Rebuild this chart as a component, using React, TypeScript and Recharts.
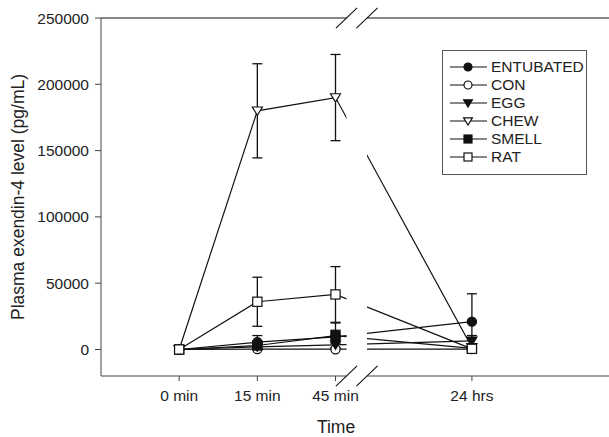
import { LineChart, Line, XAxis, YAxis, ErrorBar, ReferenceLine, ReferenceArea } from 'recharts';

const timeLabels = ['0 min', '15 min', '45 min', '24 hrs'];
// 24 hrs sits to the right of the axis break
const timePositions = [0, 1, 2, 3.745];

const entubated = [0, 5500, 9500, 21000];
const entubatedErr = [0, 5000, 5000, 21000];
const con = [0, 300, 200, 300];
const conErr = [0, 300, 300, 300];
const egg = [0, 2000, 3500, 6500];
const eggErr = [0, 1500, 2000, 4000];
const chew = [0, 180000, 190000, 1500];
const chewErr = [0, 35500, 32500, 1500];
const smell = [0, 3000, 10500, 800];
const smellErr = [0, 2000, 9500, 800];
const rat = [0, 36000, 41500, 500];
const ratErr = [0, 18500, 21000, 500];

const yTicks = [0, 50000, 100000, 150000, 200000, 250000];

const series = [
  { key: 'entubated', name: 'ENTUBATED', values: entubated, errors: entubatedErr, shape: 'circle', filled: true },
  { key: 'con', name: 'CON', values: con, errors: conErr, shape: 'circle', filled: false },
  { key: 'egg', name: 'EGG', values: egg, errors: eggErr, shape: 'triangle', filled: true },
  { key: 'chew', name: 'CHEW', values: chew, errors: chewErr, shape: 'triangle', filled: false },
  { key: 'smell', name: 'SMELL', values: smell, errors: smellErr, shape: 'square', filled: true },
  { key: 'rat', name: 'RAT', values: rat, errors: ratErr, shape: 'square', filled: false },
];

const data = timePositions.map((x, i) => {
  const row: Record<string, number> = { x };
  series.forEach((s) => {
    row[s.key] = s.values[i];
    row[s.key + 'Err'] = s.errors[i];
  });
  return row;
});

const FONT = '"Liberation Sans", Arial, sans-serif';
const INK = '#111';

// axis break, in data units
const breakLeft = 2.141;
const breakRight = 2.403;
const slashDx = 0.135;
const slashDy = 7600;
const yTop = 250000;
const yBottom = -20000;

function Marker({ cx, cy, shape, filled, r = 4.6 }: any) {
  const common = { fill: filled ? INK : '#fff', stroke: INK, strokeWidth: 1.2 };
  if (shape === 'circle') return <circle cx={cx} cy={cy} r={r} {...common} />;
  if (shape === 'square') return <rect x={cx - r} y={cy - r} width={r * 2} height={r * 2} {...common} />;
  return (
    <polygon
      points={`${cx - r - 0.4},${cy - r + 0.8} ${cx + r + 0.4},${cy - r + 0.8} ${cx},${cy + r}`}
      {...common}
    />
  );
}

function LegendBox() {
  return (
    <div
      style={{
        position: 'absolute',
        left: 442,
        top: 50,
        boxSizing: 'border-box',
        width: 145,
        height: 125,
        border: '1px solid #555',
        background: '#fff',
        paddingTop: 7,
        fontFamily: FONT,
        fontSize: 15.5,
        color: '#222',
      }}
    >
      {series.map((s) => (
        <div key={s.key} style={{ display: 'flex', alignItems: 'center', height: 18 }}>
          <svg width={47} height={18} style={{ display: 'block' }}>
            <line x1={7} y1={9} x2={44} y2={9} stroke={INK} strokeWidth={1.2} />
            <Marker cx={25} cy={9} shape={s.shape} filled={s.filled} r={4} />
          </svg>
          <span style={{ marginLeft: 1, lineHeight: '18px' }}>{s.name}</span>
        </div>
      ))}
    </div>
  );
}

export default function App() {
  return (
    <div style={{ position: 'relative', width: 609, height: 437, overflow: 'hidden' }}>
      <style>{'html,body{margin:0;overflow:hidden}'}</style>
      <LineChart
        width={609}
        height={437}
        data={data}
        margin={{ top: 18, right: -4, bottom: 0, left: 0 }}
        style={{ fontFamily: FONT }}
      >
        <XAxis
          dataKey="x"
          type="number"
          domain={[-1, 5.55]}
          ticks={timePositions}
          interval={0}
          tickFormatter={(v: number) => timeLabels[timePositions.indexOf(v)]}
          height={61}
          tickSize={5}
          tickMargin={9}
          axisLine={{ stroke: '#444' }}
          tickLine={{ stroke: '#444' }}
          tick={{ fill: '#222', fontSize: 15.5 }}
          label={{ value: 'Time', position: 'insideBottom', offset: 4, dx: -21, style: { fontSize: 17.5, fill: '#222' } }}
        />
        <YAxis
          type="number"
          domain={[yBottom, yTop]}
          ticks={yTicks}
          interval={0}
          width={101}
          tickSize={6}
          tickMargin={6}
          axisLine={{ stroke: '#444' }}
          tickLine={{ stroke: '#444' }}
          tick={{ fill: '#222', fontSize: 15.5 }}
          label={{
            value: 'Plasma exendin-4 level (pg/mL)',
            angle: -90,
            position: 'center',
            dx: -33,
            style: { fontSize: 17.5, fill: '#222', textAnchor: 'middle' },
          }}
        />
        <ReferenceLine y={yTop} stroke={INK} strokeWidth={1.2} />
        {series.map((s) => (
          <Line
            key={s.key}
            dataKey={s.key}
            name={s.name}
            stroke={INK}
            strokeWidth={1.2}
            isAnimationActive={false}
            activeDot={false}
            dot={(props: any) => (
              <Marker key={`${s.key}-${props.index}`} cx={props.cx} cy={props.cy} shape={s.shape} filled={s.filled} />
            )}
          >
            <ErrorBar dataKey={s.key + 'Err'} direction="y" width={5} stroke={INK} strokeWidth={1.3} />
          </Line>
        ))}
        <ReferenceArea
          x1={breakLeft}
          x2={breakRight}
          y1={yBottom - 1500}
          y2={yTop + 1500}
          fill="#fff"
          fillOpacity={1}
          stroke="none"
          ifOverflow="visible"
          zIndex={1500}
        />
        {[breakLeft, breakRight].flatMap((bx) =>
          [yTop, yBottom].map((by) => (
            <ReferenceLine
              key={`${bx}-${by}`}
              segment={[
                { x: bx - slashDx, y: by - slashDy },
                { x: bx + slashDx, y: by + slashDy },
              ]}
              stroke={INK}
              strokeWidth={1.1}
              ifOverflow="visible"
              zIndex={1600}
            />
          ))
        )}
      </LineChart>
      <LegendBox />
    </div>
  );
}
